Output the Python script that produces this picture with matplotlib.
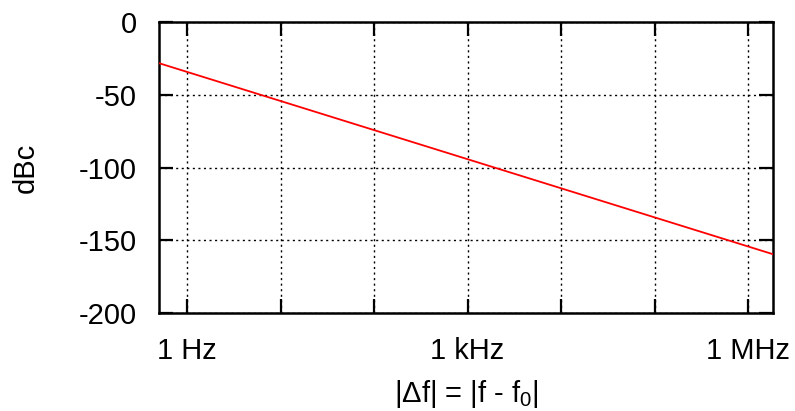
import matplotlib
matplotlib.use("Agg")
import matplotlib.pyplot as plt
from matplotlib.ticker import FixedLocator, NullLocator

plt.rcParams['font.family'] = ['Liberation Sans', 'DejaVu Sans']
plt.rcParams['axes.unicode_minus'] = False
plt.rcParams['mathtext.fontset'] = 'custom'
plt.rcParams['mathtext.rm'] = 'Liberation Sans'
plt.rcParams['mathtext.it'] = 'Liberation Sans'

# data
freq_hz = [0.5, 1.85e6]
dbc = [-28.3, -159.6]
xtick_vals = [1, 10, 100, 1e3, 1e4, 1e5, 1e6]
xtick_labels = ['1 Hz', '', '', '1 kHz', '', '', '1 MHz']
ytick_vals = [0, -50, -100, -150, -200]

FS = 21
fig = plt.figure(figsize=(7.95, 4.11), dpi=100)
ax = fig.add_axes([159/795, 1 - 313/411, (773-159)/795, (313-22)/411])
ax.plot(freq_hz, dbc, color='#ff0000', lw=1.3, zorder=3)
ax.set_xscale('log')
ax.set_xlim(0.5, 1.85e6)
ax.set_ylim(-200, 0)
ax.xaxis.set_major_locator(FixedLocator(xtick_vals))
ax.xaxis.set_minor_locator(NullLocator())
ax.set_xticks(xtick_vals)
ax.set_xticklabels(xtick_labels)
ax.set_yticks(ytick_vals)
ax.set_yticklabels([str(v) for v in ytick_vals])
ax.tick_params(axis='x', which='major', direction='in', length=10, width=1.6,
               top=True, labelsize=FS, pad=17, colors='black')
ax.tick_params(axis='y', which='major', direction='in', length=10, width=1.6,
               right=True, labelsize=FS, pad=16, colors='black')
ax.grid(True, color='black', linestyle=(0, (1.5, 2.5)), linewidth=1.0)
for s in ax.spines.values():
    s.set_linewidth(1.8)
ax.set_ylabel('dBc', fontsize=FS, labelpad=28)
ax.set_xlabel('|Δf| = |f - f$_0$|', fontsize=FS, labelpad=10)
fig.savefig('out.png', dpi=100)
